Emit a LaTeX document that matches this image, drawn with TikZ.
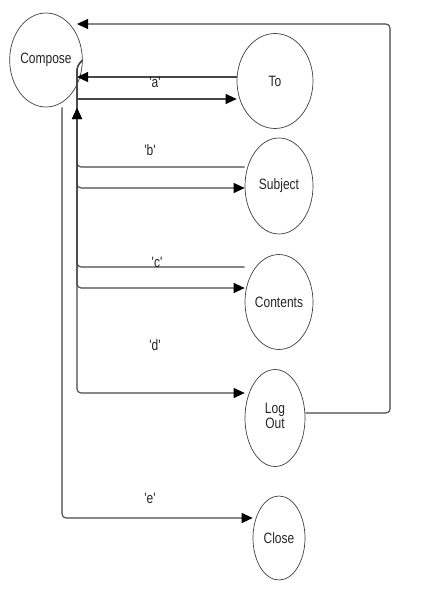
\documentclass[tikz,border=0pt]{standalone}
\usepackage{fontspec}
\usepackage{graphicx}
\setmainfont{Liberation Sans}
\usetikzlibrary{arrows.meta,shapes.geometric}
\newcommand\vtxt[1]{\scalebox{1}[1.25]{#1}}
\newcommand\qlab[1]{\vtxt{\textquotesingle#1\textquotesingle}}
\begin{document}
\begin{tikzpicture}[x=1pt,y=-1pt,
  state/.style={ellipse,draw=black!75,line width=0.7pt,inner sep=0pt,text=black!85,
    font=\fontsize{12}{12}\selectfont},
  conn/.style={draw=black!72,line width=1.1pt,rounded corners=4pt},
  arr/.style={conn,-{Triangle[length=11pt,width=10pt,fill=black,color=black]}},
  lab/.style={text=black!85,font=\fontsize{12}{12}\selectfont,inner sep=0pt}]
\useasboundingbox[fill=white] (0,0) rectangle (429,594);

% states
\node[state,minimum width=60pt,minimum height=94pt] (compose) at (46,60) {\vtxt{Compose}};
\node[state,minimum width=76pt,minimum height=95pt] (to) at (275,81) {\vtxt{To}};
\node[state,minimum width=68pt,minimum height=96pt] (subject) at (279,186) {\vtxt{Subject}};
\node[state,minimum width=68pt,minimum height=95pt] (contents) at (279,302) {\vtxt{Contents}};
\node[state,minimum width=60pt,minimum height=97pt] (logout) at (275,418)
  {\vtxt{\begin{tabular}{@{}c@{}}Log\\Out\end{tabular}}};
\node[state,minimum width=52pt,minimum height=84pt] (close) at (279,538) {\vtxt{Close}};

% named bus points next to Compose
\coordinate (ctop) at (77,24);
\coordinate (cin) at (77,108);

% Log Out -> Compose (outer loop)
\draw[arr] (logout.east |- 0,413) -- (390,413) -- (390,24) -- (ctop);

% To <-> Compose
\coordinate (ca) at (77,77);
\draw[arr] (to.west |- 0,77) -- (ca);
\draw[arr] (77,99) -- (to.west |- 0,99);

% Compose -> Subject / Contents / Log Out (bus at x=77)
\draw[conn] (compose.east) -- (77,66) -- (77,99);
\draw[arr] (compose.east) -- (77,66) -- (77,188) -- (subject.west |- 0,188);
\draw[arr] (compose.east) -- (77,66) -- (77,288) -- (contents.west |- 0,288);
\draw[arr] (compose.east) -- (77,66) -- (77,393) -- (logout.west |- 0,393);

% Subject / Contents -> Compose
\draw[arr] (subject.west |- 0,167) -- (77,167) -- (cin);
\draw[arr] (contents.west |- 0,267) -- (77,267) -- (cin);

% Compose -> Close
\draw[arr] (compose.south -| 62,0) -- (62,518) -- (close.west |- 0,518);

% labels
\node[lab] (la) at (155,82) {\qlab{a}};
\node[lab] (lb) at (150,150) {\qlab{b}};
\node[lab] (lc) at (157,262) {\qlab{c}};
\node[lab] (ld) at (155,345) {\qlab{d}};
\node[lab] (le) at (150,498) {\qlab{e}};
\end{tikzpicture}
\end{document}
